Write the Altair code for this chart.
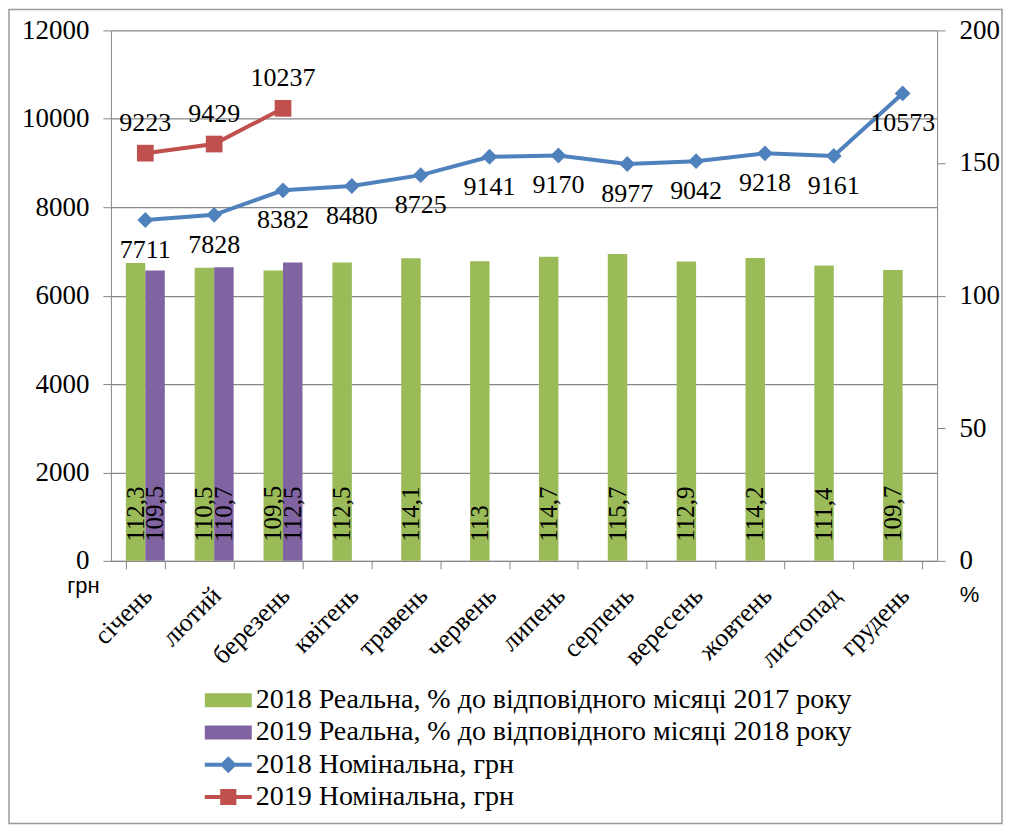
import altair as alt
import pandas as pd

# ---------------- data ----------------
months = ["січень", "лютий", "березень", "квітень", "травень", "червень",
          "липень", "серпень", "вересень", "жовтень", "листопад", "грудень"]
real_2018 = [112.3, 110.5, 109.5, 112.5, 114.1, 113, 114.7, 115.7, 112.9, 114.2, 111.4, 109.7]
real_2019 = [109.5, 110.7, 112.5]
nom_2018 = [7711, 7828, 8382, 8480, 8725, 9141, 9170, 8977, 9042, 9218, 9161, 10573]
nom_2019 = [9223, 9429, 10237]
series_names = [
    "2018 Реальна, % до відповідного місяці 2017 року",
    "2019 Реальна, % до відповідного місяці 2018 року",
    "2018 Номінальна, грн",
    "2019 Номінальна, грн",
]
colors = ["#9BBB59", "#8064A2", "#4F81BD", "#C0504D"]


def fmt(v):
    return f"{v:g}".replace(".", ",")


bars_df = pd.DataFrame(
    [{"month": m, "series": series_names[0], "value": v, "label": fmt(v)} for m, v in zip(months, real_2018)]
    + [{"month": m, "series": series_names[1], "value": v, "label": fmt(v)} for m, v in zip(months, real_2019)]
)
n18 = pd.DataFrame({"month": months, "value": nom_2018})
n19 = pd.DataFrame({"month": months[:len(nom_2019)], "value": nom_2019})

# ---------------- styling ----------------
W, H = 827, 531
PAD = {"left": 103, "top": 22, "right": 67, "bottom": 265}
SERIF = "'Liberation Serif', 'Times New Roman', Times, serif"
SANS = "'Liberation Sans', Arial, sans-serif"
GRAY = "#878787"

xscale = alt.Scale(domain=months, paddingInner=0.434, paddingOuter=0.217)
xaxis = alt.Axis(
    title=None, labelAngle=-45, labelAlign="right", labelBaseline="top",
    labelFont=SERIF, labelFontSize=26, labelColor="black",
    tickBand="extent", tickSize=8, tickColor=GRAY, domainColor=GRAY,
    labelPadding=13, labelOffset=-7, grid=False,
)
xenc = alt.X("month:N", sort=months, scale=xscale, axis=xaxis)

# legend symbols (custom paths in the unit square, scaled by symbol size)
rect_path = "M-1.516,-0.452H1.516V0.452H-1.516Z"
diamond_path = "M-1.516,-0.13H1.516V0.13H-1.516Z M0,-0.55L0.55,0L0,0.55L-0.55,0Z"
square_path = "M-1.516,-0.13H1.516V0.13H-1.516Z M-0.52,-0.52H0.52V0.52H-0.52Z"
shape_expr = (
    f"datum.value === '{series_names[2]}' ? '{diamond_path}' : "
    f"datum.value === '{series_names[3]}' ? '{square_path}' : '{rect_path}'"
)

legend = alt.Legend(
    title=None, orient="none", legendX=102, legendY=655, symbolSize=961,
    symbolStrokeWidth=0, labelFont=SERIF, labelFontSize=28, labelColor="black",
    labelLimit=800, rowPadding=2.3, labelOffset=12, padding=0,
    symbolType={"expr": shape_expr}, symbolOpacity=1,
)

pct_scale = alt.Scale(domain=[0, 200])
right_axis = alt.Axis(
    orient="right", values=[0, 50, 100, 150, 200], format="d", grid=False,
    labelFont=SERIF, labelFontSize=27, labelColor="black", labelPadding=14,
    tickSize=8, tickColor=GRAY, domainColor=GRAY,
    title="%", titleAngle=0, titleFont=SANS, titleFontSize=22, titleFontWeight="normal",
    titleX=32, titleY=565, titleAlign="center", titleBaseline="middle", titleColor="black",
)

xoff = alt.XOffset("series:N", scale=alt.Scale(domain=series_names[:2], paddingInner=0, paddingOuter=0))

bars = alt.Chart(bars_df).mark_bar().encode(
    x=xenc,
    xOffset=xoff,
    y=alt.Y("value:Q", scale=pct_scale, axis=right_axis),
    color=alt.Color("series:N", scale=alt.Scale(domain=series_names, range=colors), legend=legend),
)
bar_text = alt.Chart(bars_df).mark_text(
    angle=270, align="left", baseline="middle", dx=19, font=SERIF, fontSize=25, color="black"
).encode(
    x=xenc,
    xOffset=xoff,
    y=alt.Y(datum=0, type="quantitative", scale=pct_scale),
    text="label:N",
)
bar_layer = alt.layer(bars, bar_text)

nom_scale = alt.Scale(domain=[0, 12000])
left_axis = alt.Axis(
    orient="left", values=list(range(0, 12001, 2000)), format="d", grid=True,
    gridColor=GRAY, gridWidth=1.2, labelFont=SERIF, labelFontSize=27, labelColor="black",
    labelPadding=14, tickSize=8, tickColor=GRAY, domainColor=GRAY,
    title="грн", titleAngle=0, titleFont=SANS, titleFontSize=22, titleFontWeight="normal",
    titleX=-28, titleY=556, titleAlign="center", titleBaseline="middle", titleColor="black",
)
ynom = alt.Y("value:Q", scale=nom_scale, axis=left_axis)

line18 = alt.Chart(n18).mark_line(
    color=colors[2], strokeWidth=4,
    point=alt.OverlayMarkDef(shape="diamond", size=250, filled=True, color=colors[2], opacity=1),
).encode(x=xenc, y=ynom)
lbl18 = alt.Chart(n18).mark_text(
    dy=30, font=SERIF, fontSize=26, color="black", baseline="middle"
).encode(x=xenc, y=ynom, text="value:Q")
line19 = alt.Chart(n19).mark_line(
    color=colors[3], strokeWidth=4,
    point=alt.OverlayMarkDef(shape="square", size=280, filled=True, color=colors[3], opacity=1),
).encode(x=xenc, y=ynom)
lbl19 = alt.Chart(n19).mark_text(
    dy=-30, font=SERIF, fontSize=26, color="black", baseline="middle"
).encode(x=xenc, y=ynom, text="value:Q")
nom_layer = alt.layer(line18, lbl18, line19, lbl19)

frame = alt.Chart(pd.DataFrame({"frame": [1]})).mark_rect(
    fill=None, stroke="#9a9a9a", strokeWidth=1.5
).encode(
    x=alt.value(-PAD["left"] + 1), x2=alt.value(W + PAD["right"] - 2),
    y=alt.value(-PAD["top"] + 1), y2=alt.value(H + PAD["bottom"] - 2),
)

chart = alt.layer(bar_layer, nom_layer, frame).resolve_scale(y="independent").properties(
    width=W, height=H, padding=PAD, autosize=alt.AutoSizeParams(type="none"),
    background="white",
).configure_view(stroke=None)

chart.save("out.html", embed_options={"renderer": "svg", "actions": False})
